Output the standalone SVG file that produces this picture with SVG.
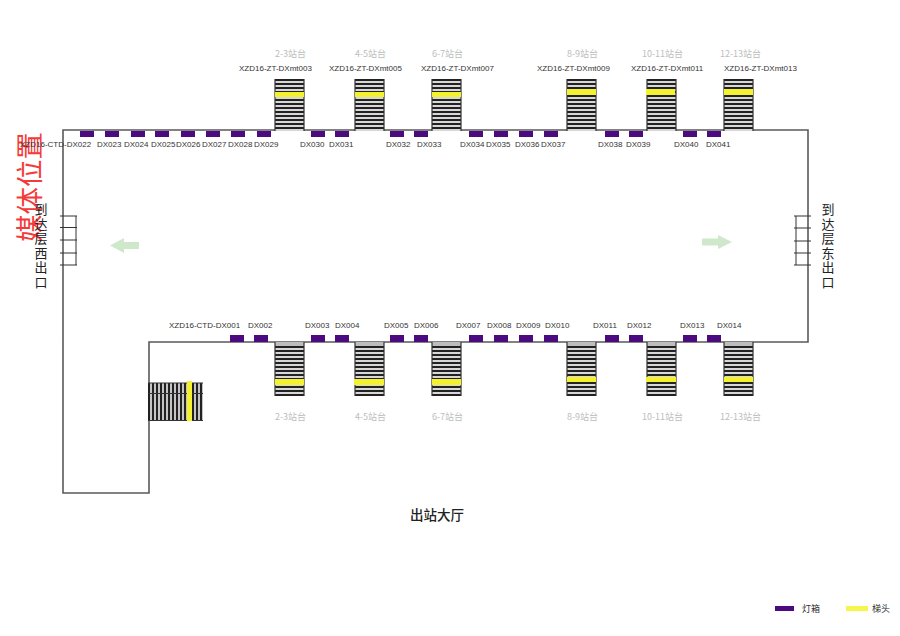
<svg xmlns="http://www.w3.org/2000/svg" width="900" height="636" viewBox="0 0 900 636">
<style>
text{font-family:"Liberation Sans","Noto Sans CJK SC",sans-serif;fill:#333;font-size:8px}
.zh{font-family:"Noto Sans CJK SC","Liberation Sans",sans-serif}
.plat{fill:#bdbdbd;font-size:9px}
.code{font-size:8px}
.box{fill:#4b0a7d}
.y{fill:#f4f22c}
.wall{fill:none;stroke:#5a5a5a;stroke-width:1.6}
.rail{stroke:#333;stroke-width:1.2;fill:none}
.door{stroke:#333;stroke-width:1;fill:none}
.big{font-size:13px;fill:#222;writing-mode:vertical-rl;letter-spacing:1.5px}
.arrow{fill:#cfe8cc}
</style>
<defs>
<pattern id="tread" width="29" height="4" patternUnits="userSpaceOnUse">
<rect width="29" height="4" fill="#d8d8d8"/>
<rect width="29" height="2" fill="#222"/>
</pattern>
<pattern id="riser" width="4" height="40" patternUnits="userSpaceOnUse">
<rect width="4" height="40" fill="#c4c4c4"/>
<rect width="2" height="40" fill="#222"/>
</pattern>
<g id="stTop">
<rect width="29" height="52" fill="url(#tread)"/>
<path class="rail" d="M0,0V52M29,0V52"/>
</g>
<g id="stBot">
<rect width="29" height="54" fill="url(#tread)"/>
<rect width="29" height="4" fill="#bdbdbd"/>
<path class="rail" d="M0,0V54M29,0V54"/>
</g>
</defs>
<rect width="900" height="636" fill="#fff"/>

<text class="zh" transform="translate(40,242) rotate(-90)" style="font-size:27.5px;fill:#f43a3a">媒体位置</text>

<g id="connectors">
<path class="wall" d="M63,130H808V342H149V493H63Z"/>
</g>

<g id="stair-top-23"><use href="#stTop" x="275" y="79"/><rect class="y" x="275" y="92" width="29" height="5"/><text class="zh plat" x="275" y="57">2-3站台</text><text class="code" x="239" y="71">XZD16-ZT-DXmt003</text></g>
<g id="stair-top-45"><use href="#stTop" x="355" y="79"/><rect class="y" x="355" y="92" width="29" height="5"/><text class="zh plat" x="355" y="57">4-5站台</text><text class="code" x="329" y="71">XZD16-ZT-DXmt005</text></g>
<g id="stair-top-67"><use href="#stTop" x="432" y="79"/><rect class="y" x="432" y="92" width="29" height="5"/><text class="zh plat" x="432" y="57">6-7站台</text><text class="code" x="421" y="71">XZD16-ZT-DXmt007</text></g>
<g id="stair-top-89"><use href="#stTop" x="567" y="79"/><rect class="y" x="567" y="89" width="29" height="6"/><text class="zh plat" x="567" y="57">8-9站台</text><text class="code" x="537" y="71">XZD16-ZT-DXmt009</text></g>
<g id="stair-top-1011"><use href="#stTop" x="647" y="79"/><rect class="y" x="646" y="89" width="29" height="6"/><text class="zh plat" x="642" y="57">10-11站台</text><text class="code" x="631" y="71">XZD16-ZT-DXmt011</text></g>
<g id="stair-top-1213"><use href="#stTop" x="724" y="79"/><rect class="y" x="724" y="89" width="29" height="6"/><text class="zh plat" x="720" y="57">12-13站台</text><text class="code" x="724" y="71">XZD16-ZT-DXmt013</text></g>

<g id="stair-bot-23"><use href="#stBot" x="275" y="342"/><rect class="y" x="275" y="379" width="29" height="6"/><text class="zh plat" x="275" y="420">2-3站台</text></g>
<g id="stair-bot-45"><use href="#stBot" x="355" y="342"/><rect class="y" x="354" y="379" width="30" height="6"/><text class="zh plat" x="355" y="420">4-5站台</text></g>
<g id="stair-bot-67"><use href="#stBot" x="432" y="342"/><rect class="y" x="432" y="379" width="29" height="6"/><text class="zh plat" x="432" y="420">6-7站台</text></g>
<g id="stair-bot-89"><use href="#stBot" x="567" y="342"/><rect class="y" x="567" y="377" width="29" height="5"/><text class="zh plat" x="567" y="420">8-9站台</text></g>
<g id="stair-bot-1011"><use href="#stBot" x="647" y="342"/><rect class="y" x="646" y="377" width="30" height="5"/><text class="zh plat" x="642" y="420">10-11站台</text></g>
<g id="stair-bot-1213"><use href="#stBot" x="724" y="342"/><rect class="y" x="724" y="377" width="29" height="5"/><text class="zh plat" x="720" y="420">12-13站台</text></g>

<g id="stair-left">
<rect x="148" y="383" width="55" height="38" fill="url(#riser)"/>
<path class="rail" d="M148,383H203M148,393.5H203M148,420.500H203"/>
<rect class="y" x="187" y="381" width="5" height="40"/>
</g>

<g id="DX022"><rect class="box" x="80" y="131" width="14" height="6"/><text x="20" y="147">XZD16-CTD-DX022</text></g>
<g id="DX023"><rect class="box" x="105" y="131" width="14" height="6"/><text x="97" y="147">DX023</text></g>
<g id="DX024"><rect class="box" x="131" y="131" width="14" height="6"/><text x="124" y="147">DX024</text></g>
<g id="DX025"><rect class="box" x="155" y="131" width="14" height="6"/><text x="151" y="147">DX025</text></g>
<g id="DX026"><rect class="box" x="181" y="131" width="14" height="6"/><text x="176" y="147">DX026</text></g>
<g id="DX027"><rect class="box" x="206" y="131" width="14" height="6"/><text x="202" y="147">DX027</text></g>
<g id="DX028"><rect class="box" x="231" y="131" width="14" height="6"/><text x="228" y="147">DX028</text></g>
<g id="DX029"><rect class="box" x="257" y="131" width="14" height="6"/><text x="254" y="147">DX029</text></g>
<g id="DX030"><rect class="box" x="311" y="131" width="14" height="6"/><text x="300" y="147">DX030</text></g>
<g id="DX031"><rect class="box" x="335" y="131" width="14" height="6"/><text x="329" y="147">DX031</text></g>
<g id="DX032"><rect class="box" x="390" y="131" width="14" height="6"/><text x="386" y="147">DX032</text></g>
<g id="DX033"><rect class="box" x="414" y="131" width="14" height="6"/><text x="417" y="147">DX033</text></g>
<g id="DX034"><rect class="box" x="469" y="131" width="14" height="6"/><text x="460" y="147">DX034</text></g>
<g id="DX035"><rect class="box" x="494" y="131" width="14" height="6"/><text x="486" y="147">DX035</text></g>
<g id="DX036"><rect class="box" x="519" y="131" width="14" height="6"/><text x="515" y="147">DX036</text></g>
<g id="DX037"><rect class="box" x="544" y="131" width="14" height="6"/><text x="541" y="147">DX037</text></g>
<g id="DX038"><rect class="box" x="605" y="131" width="14" height="6"/><text x="598" y="147">DX038</text></g>
<g id="DX039"><rect class="box" x="629" y="131" width="14" height="6"/><text x="626" y="147">DX039</text></g>
<g id="DX040"><rect class="box" x="683" y="131" width="14" height="6"/><text x="674" y="147">DX040</text></g>
<g id="DX041"><rect class="box" x="707" y="131" width="14" height="6"/><text x="706" y="147">DX041</text></g>

<g id="DX001"><rect class="box" x="230" y="335" width="14" height="7"/><text x="169" y="328">XZD16-CTD-DX001</text></g>
<g id="DX002"><rect class="box" x="254" y="335" width="14" height="7"/><text x="248" y="328">DX002</text></g>
<g id="DX003"><rect class="box" x="311" y="335" width="14" height="7"/><text x="305" y="328">DX003</text></g>
<g id="DX004"><rect class="box" x="335" y="335" width="14" height="7"/><text x="335" y="328">DX004</text></g>
<g id="DX005"><rect class="box" x="390" y="335" width="14" height="7"/><text x="384" y="328">DX005</text></g>
<g id="DX006"><rect class="box" x="414" y="335" width="14" height="7"/><text x="414" y="328">DX006</text></g>
<g id="DX007"><rect class="box" x="469" y="335" width="14" height="7"/><text x="456" y="328">DX007</text></g>
<g id="DX008"><rect class="box" x="494" y="335" width="14" height="7"/><text x="487" y="328">DX008</text></g>
<g id="DX009"><rect class="box" x="519" y="335" width="14" height="7"/><text x="516" y="328">DX009</text></g>
<g id="DX010"><rect class="box" x="544" y="335" width="14" height="7"/><text x="545" y="328">DX010</text></g>
<g id="DX011"><rect class="box" x="605" y="335" width="14" height="7"/><text x="593" y="328">DX011</text></g>
<g id="DX012"><rect class="box" x="629" y="335" width="14" height="7"/><text x="627" y="328">DX012</text></g>
<g id="DX013"><rect class="box" x="683" y="335" width="14" height="7"/><text x="680" y="328">DX013</text></g>
<g id="DX014"><rect class="box" x="707" y="335" width="14" height="7"/><text x="717" y="328">DX014</text></g>

<g id="door-west">
<path class="door" d="M60,216H77M60,227.500H77M60,240H77M60,253H77M60,265H77M76,216V265"/>
<text class="zh big" x="41" y="203">到达层西出口</text>
<polygon class="arrow" points="110,245.500 124,238 124,242 139,242 139,249 124,249 124,253"/>
</g>
<g id="door-east">
<path class="door" d="M794,216H811M794,228H811M794,241H811M794,253H811M794,265H811M796,216V265"/>
<text class="zh big" x="828" y="203">到达层东出口</text>
<polygon class="arrow" points="732,242 718,235 718,238.500 702,238.500 702,245.500 718,245.500 718,249"/>
</g>

<g id="hall"><text class="zh" x="410" y="520" style="font-size:13.500px;fill:#222;font-weight:500">出站大厅</text></g>

<g id="legend">
<rect class="box" x="775" y="606" width="19" height="5"/>
<text class="zh" x="802" y="612" style="font-size:9px">灯箱</text>
<rect x="846" y="606" width="22" height="5" fill="#f6f64a"/>
<text class="zh" x="872" y="612" style="font-size:9px">梯头</text>
</g>
</svg>
